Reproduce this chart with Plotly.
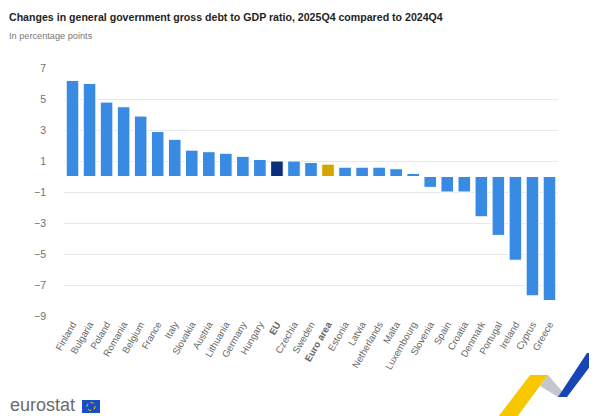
import plotly.graph_objects as go

# the page body has an 8px margin, so draw the figure 8px smaller and
# shift every pixel position by OFF
OFF = 8
W, H = 597 - OFF, 416 - OFF
L, R, T, B = 64 - OFF, 39, 68 - OFF, 100

countries = [
    "Finland", "Bulgaria", "Poland", "Romania", "Belgium", "France", "Italy",
    "Slovakia", "Austria", "Lithuania", "Germany", "Hungary", "EU", "Czechia",
    "Sweden", "Euro area", "Estonia", "Latvia", "Netherlands", "Malta",
    "Luxembourg", "Slovenia", "Spain", "Croatia", "Denmark", "Portugal",
    "Ireland", "Cyprus", "Greece",
]
changes = [
    6.2, 6.0, 4.8, 4.5, 3.9, 2.9, 2.4, 1.7, 1.6, 1.5, 1.3, 1.1, 1.0, 1.0,
    0.9, 0.8, 0.6, 0.6, 0.6, 0.5, 0.2, -0.7, -1.0, -1.0, -2.6, -3.8, -5.4,
    -7.7, -8.0,
]
y_ticks = [7, 5, 3, 1, -1, -3, -5, -7, -9]

BLUE = "#388ae2"
colors = {"EU": "#0c2d7e", "Euro area": "#d4a600"}
bar_colors = [colors.get(c, BLUE) for c in countries]
tick_text = [f"<b>{c}</b>" if c in colors else c for c in countries]


# reference pixel -> paper coords (decorations only)
def px(x):
    return (x - OFF - L) / (W - L - R)


def py(y):
    return (H - B - (y - OFF)) / (H - T - B)


def path(points):
    return "M " + " L ".join(f"{px(a)},{py(b)}" for a, b in points) + " Z"


fig = go.Figure(
    go.Bar(
        x=countries,
        y=changes,
        marker=dict(color=bar_colors, line=dict(color="#ffffff", width=1)),
    )
)

n = len(countries)
fig.update_layout(
    width=W,
    height=H,
    margin=dict(l=L, r=R, t=T, b=B),
    paper_bgcolor="white",
    plot_bgcolor="white",
    font=dict(family="Liberation Sans, Arial, sans-serif", color="#666666"),
    showlegend=False,
    bargap=0.26,
    xaxis=dict(
        type="category",
        categoryorder="array",
        categoryarray=countries,
        tickvals=countries,
        ticktext=tick_text,
        tickangle=-60,
        tickfont=dict(size=9.6, color="#666666"),
        showgrid=False,
        showline=False,
        ticks="",
        range=[-0.5, n - 0.5],
    ),
    xaxis2=dict(
        overlaying="x",
        anchor="free",
        position=9 / 16,
        range=[-0.5, n - 0.5],
        tickvals=[i - 0.5 for i in range(n + 1)],
        showticklabels=False,
        ticks="outside",
        ticklen=5,
        tickcolor="#555555",
        showline=True,
        linecolor="#555555",
        linewidth=1,
        showgrid=False,
        zeroline=False,
    ),
    yaxis=dict(
        range=[-9, 7],
        tickvals=y_ticks,
        tickfont=dict(size=10.5, color="#707070"),
        gridcolor="#e6e8ef",
        gridwidth=1,
        zeroline=False,
        ticklabelstandoff=17,
    ),
    annotations=[
        dict(
            text="<b>Changes in general government gross debt to GDP ratio, 2025Q4 compared to 2024Q4</b>",
            xref="paper", yref="paper", x=px(7), y=py(17),
            xanchor="left", yanchor="middle", showarrow=False,
            font=dict(size=10.6, color="#1f1f1f"),
        ),
        dict(
            text="In percentage points",
            xref="paper", yref="paper", x=px(7), y=py(36),
            xanchor="left", yanchor="middle", showarrow=False,
            font=dict(size=9.2, color="#777777"),
        ),
        dict(
            text="eurostat",
            xref="paper", yref="paper", x=px(8), y=py(405),
            xanchor="left", yanchor="middle", showarrow=False,
            font=dict(size=18, color="#6b6b6b"),
        ),
    ],
    shapes=[
        # EU flag
        dict(type="rect", xref="paper", yref="paper",
             x0=px(82), x1=px(100), y0=py(413), y1=py(400),
             fillcolor="#1a4fc4", line=dict(width=0)),
        dict(type="circle", xref="paper", yref="paper",
             x0=px(87), x1=px(95), y0=py(410.5), y1=py(402.5),
             line=dict(color="#ffd200", width=1, dash="dot")),
        # corner ribbon
        dict(type="path", xref="paper", yref="paper",
             path=path([(498, 417), (530, 375), (548, 375), (517, 417)]),
             fillcolor="#f7c800", line=dict(width=0)),
        dict(type="path", xref="paper", yref="paper",
             path=path([(540, 386), (548, 375), (567, 397), (558, 397)]),
             fillcolor="#c4c7cc", line=dict(width=0)),
        dict(type="path", xref="paper", yref="paper",
             path=path([(558, 397), (587, 353), (597, 353), (597, 357), (567, 397)]),
             fillcolor="#1745b8", line=dict(width=0)),
    ],
)

fig.write_html("out.html")
